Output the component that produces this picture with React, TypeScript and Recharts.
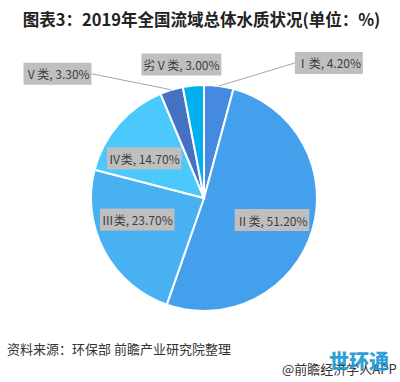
import React from "react";
import { PieChart, Pie, Cell } from "recharts";

const categories = ["Ⅰ类", "Ⅱ类", "Ⅲ类", "Ⅳ类", "Ⅴ类", "劣Ⅴ类"];
const shares = [4.2, 51.2, 23.7, 14.7, 3.3, 3.0];
const colors = ["#4589e0", "#44a0ec", "#48b1f2", "#4bc8fc", "#4571c5", "#02aff0"];

const title = "图表3：2019年全国流域总体水质状况(单位：%)";
const source = "资料来源：环保部 前瞻产业研究院整理";
const credit = "@前瞻经济学人APP";
const stamp = "世环通";

const data = categories.map((name, i) => ({ name, value: shares[i] }));

// label placement style: radial factor + nudge, and leader-line flag
const labelLayout = [
  { k: 1.0, dx: 110, dy: -23, line: "left" },
  { k: 0.63, dx: 0, dy: 1, line: "" },
  { k: 0.63, dx: -4, dy: -12, line: "" },
  { k: 0.63, dx: -6, dy: 7, line: "" },
  { k: 1.0, dx: -114, dy: -16, line: "right" },
  { k: 1.0, dx: -12, dy: -21, line: "" },
];

const FONT = "'Noto Sans CJK SC', 'Noto Sans', sans-serif";
const RAD = Math.PI / 180;

function textWidth(s: string, fs: number) {
  let w = 0;
  for (const ch of s) {
    const c = ch.codePointAt(0) || 0;
    if (c >= 0x2e80) w += fs;
    else if (c >= 0x2160 && c <= 0x217f) w += fs * 0.85;
    else if (ch === "," || ch === ".") w += fs * 0.28;
    else if (ch === " ") w += fs * 0.25;
    else if (ch === "%") w += fs * 0.85;
    else w += fs * 0.55;
  }
  return w;
}

const renderLabel = (props: any) => {
  const { cx, cy, midAngle, outerRadius, index } = props;
  const lay = labelLayout[index];
  const r = outerRadius * lay.k;
  const ax = cx + r * Math.cos(-midAngle * RAD);
  const ay = cy + r * Math.sin(-midAngle * RAD);
  const x = ax + lay.dx;
  const y = ay + lay.dy;
  const txt = `${categories[index]}, ${shares[index].toFixed(2)}%`;
  const fs = 12;
  const w = textWidth(txt, fs) + 6;
  const h = 22;
  const ex = cx + outerRadius * Math.cos(-midAngle * RAD);
  const ey = cy + outerRadius * Math.sin(-midAngle * RAD);
  return (
    <g key={`lbl-${index}`}>
      {lay.line === "left" && (
        <line x1={ex} y1={ey} x2={x - w / 2} y2={y} stroke="#a6a6a6" strokeWidth={1} />
      )}
      {lay.line === "right" && (
        <line x1={ex} y1={ey} x2={x + w / 2} y2={y} stroke="#a6a6a6" strokeWidth={1} />
      )}
      <rect x={x - w / 2} y={y - h / 2} width={w} height={h} fill="#bfbfbf" />
      <text
        x={x}
        y={y}
        textAnchor="middle"
        dominantBaseline="central"
        fontSize={fs}
        fontFamily={FONT}
        fill="#404040"
      >
        {txt}
      </text>
    </g>
  );
};

export default function App() {
  return (
    <div
      style={{
        position: "absolute",
        left: 0,
        top: 0,
        width: 400,
        height: 382,
        background: "#ffffff",
        fontFamily: FONT,
        overflow: "hidden",
      }}
    >
      <div
        style={{
          position: "absolute",
          left: 0,
          top: 8,
          width: 403,
          textAlign: "center",
          fontSize: 16.5,
          fontWeight: 700,
          color: "#222",
          lineHeight: "22px",
          whiteSpace: "nowrap",
        }}
      >
        {title}
      </div>
      <div style={{ position: "absolute", left: 0, top: 0 }}>
        <PieChart width={400} height={382} margin={{ top: 0, right: 0, bottom: 0, left: 0 }}>
          <Pie
            data={data}
            dataKey="value"
            nameKey="name"
            cx={204}
            cy={198}
            outerRadius={113}
            startAngle={90}
            endAngle={-270}
            stroke="#ffffff"
            strokeWidth={2}
            label={renderLabel}
            labelLine={false}
            isAnimationActive={false}
          >
            {data.map((d, i) => (
              <Cell key={d.name} fill={colors[i]} />
            ))}
          </Pie>
        </PieChart>
      </div>
      <div
        style={{
          position: "absolute",
          left: 7,
          top: 340,
          fontSize: 13,
          color: "#333",
          lineHeight: "18px",
          whiteSpace: "nowrap",
        }}
      >
        {source}
      </div>
      <div
        style={{
          position: "absolute",
          left: 282,
          top: 360,
          fontSize: 13,
          color: "#333",
          lineHeight: "18px",
          whiteSpace: "nowrap",
        }}
      >
        {credit}
      </div>
      <div
        style={{
          position: "absolute",
          left: 329,
          top: 348,
          fontSize: 20,
          fontWeight: 900,
          color: "#1a96d4",
          lineHeight: "26px",
          whiteSpace: "nowrap",
          opacity: 0.9,
        }}
      >
        {stamp}
      </div>
    </div>
  );
}
